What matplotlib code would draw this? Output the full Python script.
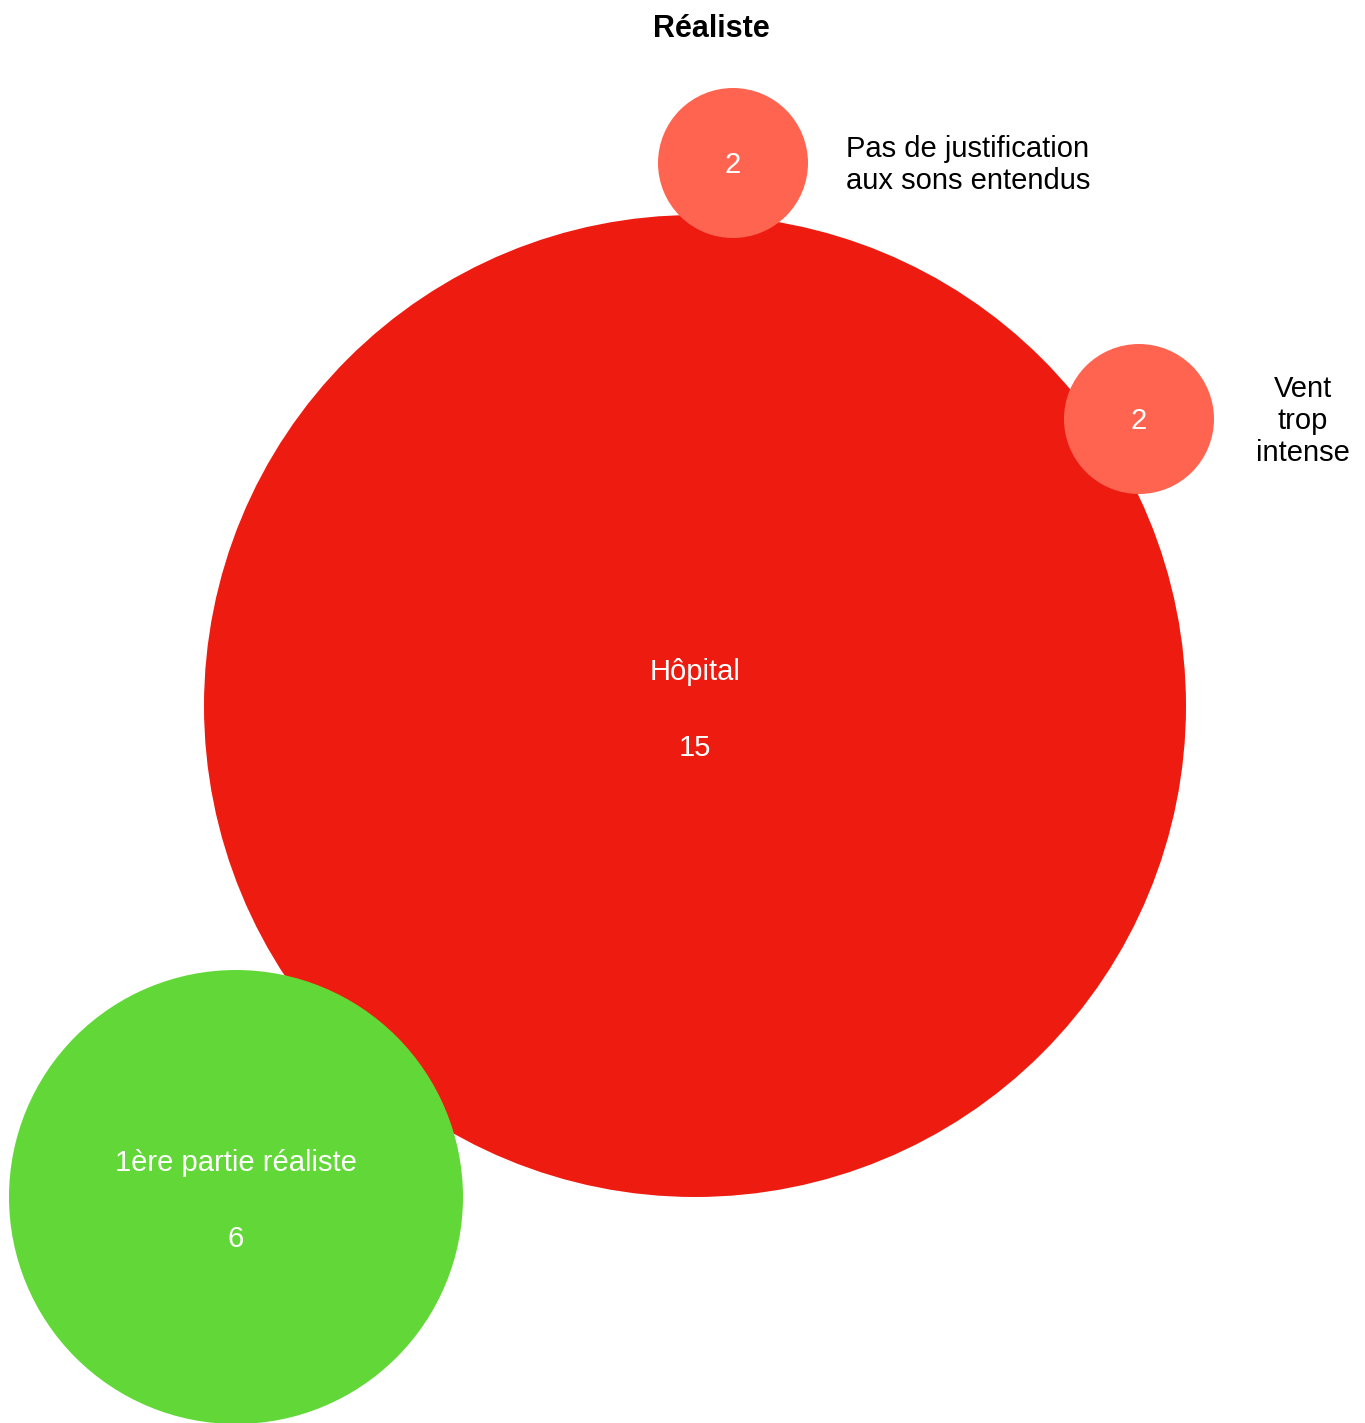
import matplotlib.pyplot as plt
from matplotlib.patches import Circle

plt.rcParams['font.family'] = ['Liberation Sans', 'DejaVu Sans']

# Données
labels = ['Hôpital', '1ère partie réaliste', 'Pas de justification\naux sons entendus', 'Vent\ntrop\nintense']
values = [15, 6, 2, 2]
colors = ['#EE1C10', '#62D838', '#FF6450', '#FF6450']

# Mise en page des bulles (en pixels)
cx = [695, 236, 733, 1139]
cy = [706, 1197, 163, 419]
radius = [491, 227, 75, 75]
inside = [True, True, False, False]

W, H = 1365, 1423
fig = plt.figure(figsize=(W / 100, H / 100), dpi=100)
ax = fig.add_axes([0, 0, 1, 1])
ax.set_xlim(0, W)
ax.set_ylim(H, 0)
ax.set_aspect('equal')
ax.axis('off')

fs = 21
for i in range(len(values)):
    ax.add_patch(Circle((cx[i], cy[i]), radius[i], color=colors[i], lw=0))
    if inside[i]:
        ax.text(cx[i], cy[i] - 34, labels[i], ha='center', va='center', color='white', fontsize=fs)
        ax.text(cx[i], cy[i] + 42, str(values[i]), ha='center', va='center', color='white', fontsize=fs)
    else:
        ax.text(cx[i], cy[i] + 2, str(values[i]), ha='center', va='center', color='white', fontsize=fs)

# étiquettes extérieures
ax.text(846, cy[2] + 2, labels[2], ha='left', va='center', fontsize=fs, linespacing=1.2)
ax.text(1303, cy[3] + 2, labels[3], ha='center', va='center', fontsize=fs, linespacing=1.2)

ax.text(711, 29, 'Réaliste', ha='center', va='center', fontsize=22, fontweight='bold')

fig.savefig('out.png', dpi=100)
